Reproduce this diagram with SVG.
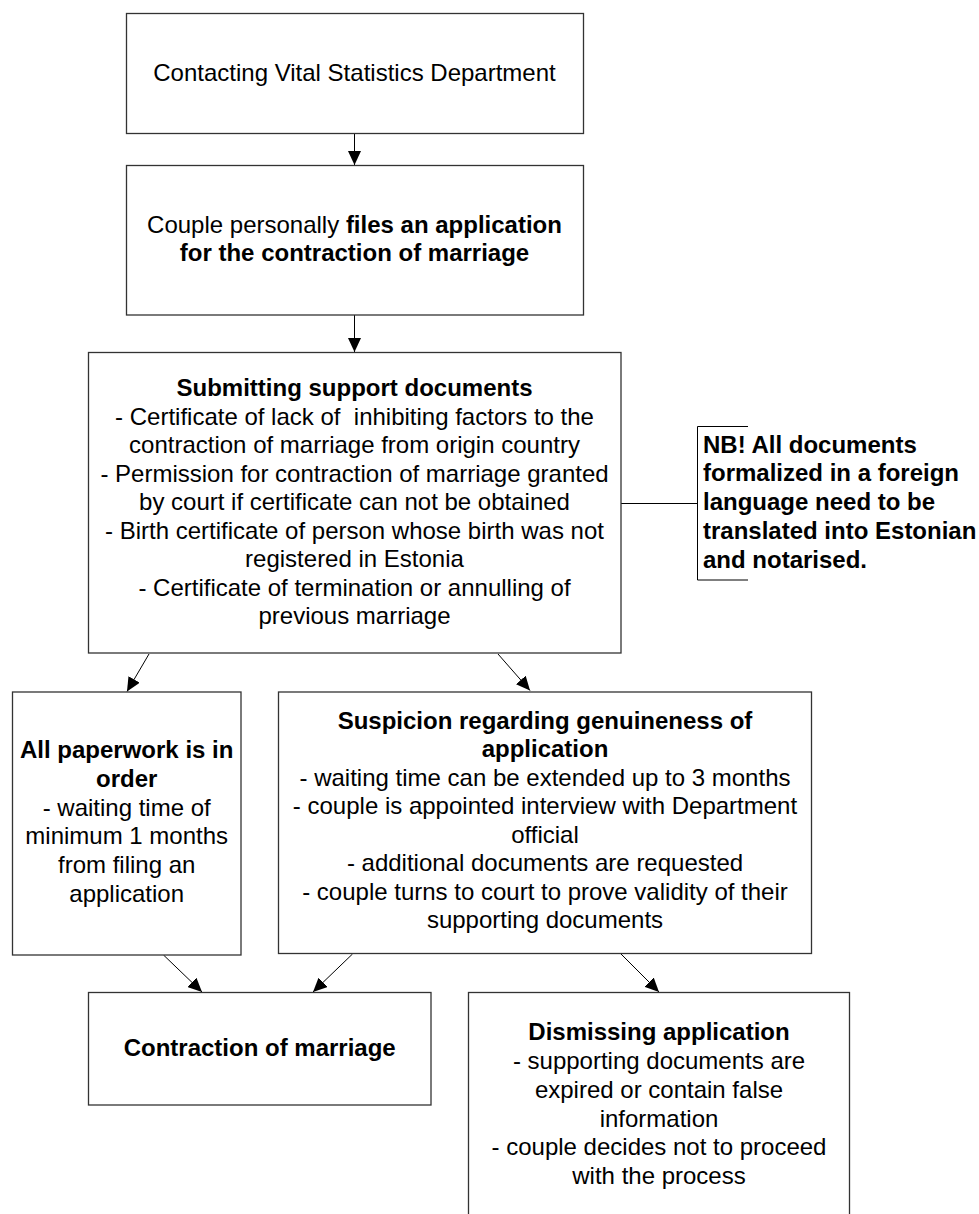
<svg xmlns="http://www.w3.org/2000/svg" width="979" height="1214" viewBox="0 0 979 1214">
<defs>
<marker id="arr" viewBox="0 0 14 13" refX="14" refY="6.5" markerWidth="14" markerHeight="13" markerUnits="userSpaceOnUse" orient="auto">
<path d="M0,0 L14,6.5 L0,13 Z" fill="#000"/>
</marker>
<style>
.box{fill:#fff;stroke:#333;stroke-width:1.3}
.t{font-family:"Liberation Sans",Arial,sans-serif;font-size:24px;fill:#000;text-anchor:middle}
.b{font-weight:bold}
.l{text-anchor:start}
.c{fill:none;stroke:#000;stroke-width:1}
.a{marker-end:url(#arr)}
</style>
</defs>
<rect width="979" height="1214" fill="#fff"/>
<g id="connectors">
<line class="c a" x1="354.5" y1="133.5" x2="354.5" y2="165"/>
<line class="c a" x1="354.5" y1="315" x2="354.5" y2="352"/>
<line class="c" x1="621" y1="503.5" x2="697.5" y2="503.5"/>
<path class="c" d="M748,426.5 H697.5 V580 H748"/>
<line class="c a" x1="149" y1="654" x2="127" y2="691.5"/>
<line class="c a" x1="498" y1="654" x2="530" y2="690.5"/>
<line class="c a" x1="163.5" y1="955" x2="202" y2="992"/>
<line class="c a" x1="352.5" y1="954" x2="313" y2="992"/>
<line class="c a" x1="621" y1="954" x2="659" y2="992"/>
</g>
<g id="n1">
<rect class="box" x="126.5" y="13.5" width="457" height="120"/>
<text class="t" x="354.5" y="81">Contacting Vital Statistics Department</text>
</g>
<g id="n2">
<rect class="box" x="126.5" y="165.5" width="457" height="149.5"/>
<text class="t" x="354.5" y="232.5">Couple personally <tspan class="b">files an application</tspan></text>
<text class="t b" x="354.5" y="261">for the contraction of marriage</text>
</g>
<g id="n3">
<rect class="box" x="88.5" y="352.5" width="532.5" height="300.5"/>
<text class="t b" x="354.5" y="396">Submitting support documents</text>
<text class="t" x="354.5" y="424.5" xml:space="preserve">- Certificate of lack of  inhibiting factors to the</text>
<text class="t" x="354.5" y="453">contraction of marriage from origin country</text>
<text class="t" x="354.5" y="481.5">- Permission for contraction of marriage granted</text>
<text class="t" x="354.5" y="510">by court if certificate can not be obtained</text>
<text class="t" x="354.5" y="538.5">- Birth certificate of person whose birth was not</text>
<text class="t" x="354.5" y="567">registered in Estonia</text>
<text class="t" x="354.5" y="595.5">- Certificate of termination or annulling of</text>
<text class="t" x="354.5" y="624">previous marriage</text>
</g>
<g id="note">
<text class="t b l" x="703" y="452.7">NB! All documents</text>
<text class="t b l" x="703" y="481.4">formalized in a foreign</text>
<text class="t b l" x="703" y="510.1">language need to be</text>
<text class="t b l" x="703" y="538.8">translated into Estonian</text>
<text class="t b l" x="703" y="567.5">and notarised.</text>
</g>
<g id="n4">
<rect class="box" x="12.5" y="692" width="228.5" height="263"/>
<text class="t b" x="126.7" y="758.3">All paperwork is in</text>
<text class="t b" x="126.7" y="787">order</text>
<text class="t" x="126.7" y="815.7">- waiting time of</text>
<text class="t" x="126.7" y="844.4">minimum 1 months</text>
<text class="t" x="126.7" y="873.1">from filing an</text>
<text class="t" x="126.7" y="901.8">application</text>
</g>
<g id="n5">
<rect class="box" x="278.5" y="692" width="533" height="261.5"/>
<text class="t b" x="545" y="728.5">Suspicion regarding genuineness of</text>
<text class="t b" x="545" y="757">application</text>
<text class="t" x="545" y="785.5">- waiting time can be extended up to 3 months</text>
<text class="t" x="545" y="814">- couple is appointed interview with Department</text>
<text class="t" x="545" y="842.5">official</text>
<text class="t" x="545" y="871">- additional documents are requested</text>
<text class="t" x="545" y="899.5">- couple turns to court to prove validity of their</text>
<text class="t" x="545" y="928">supporting documents</text>
</g>
<g id="n6">
<rect class="box" x="88.5" y="992.5" width="342.5" height="112.5"/>
<text class="t b" x="259.7" y="1056">Contraction of marriage</text>
</g>
<g id="n7">
<rect class="box" x="468.5" y="992.5" width="381" height="240"/>
<text class="t b" x="659" y="1040">Dismissing application</text>
<text class="t" x="659" y="1069">- supporting documents are</text>
<text class="t" x="659" y="1097.8">expired or contain false</text>
<text class="t" x="659" y="1126.6">information</text>
<text class="t" x="659" y="1155.4">- couple decides not to proceed</text>
<text class="t" x="659" y="1184.2">with the process</text>
</g>
</svg>
